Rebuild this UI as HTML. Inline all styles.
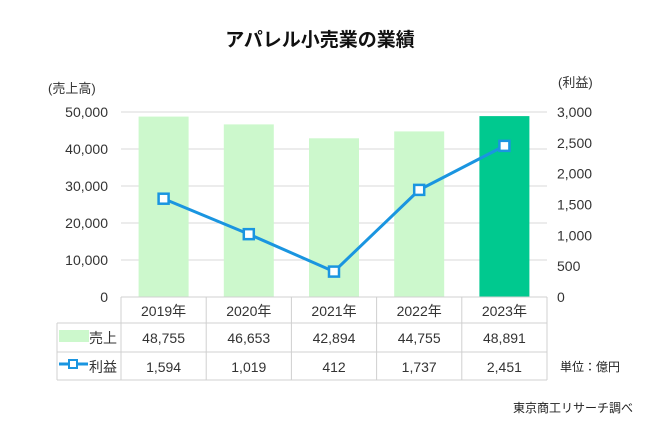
<!DOCTYPE html>
<html><head><meta charset="utf-8"><style>
body{margin:0;background:#fff;font-family:"Liberation Sans","Noto Sans CJK JP",sans-serif;}
svg text{font-family:"Liberation Sans","Noto Sans CJK JP",sans-serif;}
</style></head><body>
<svg id="c" width="661" height="427">
<text x="320" y="46" text-anchor="middle" font-size="19" font-weight="bold" fill="#111">アパレル小売業の業績</text>
<text x="48" y="93" font-size="13" fill="#333">(売上高)</text>
<text x="558" y="87" font-size="13" fill="#333">(利益)</text>
<text x="560" y="371" font-size="12" fill="#222">単位：億円</text>
<text x="633" y="412" text-anchor="end" font-size="12" fill="#222">東京商工リサーチ調べ</text>
<g id="g"></g>
</svg>
<script>
const years=["2019年","2020年","2021年","2022年","2023年"];
const sales=[48755,46653,42894,44755,48891];
const profit=[1594,1019,412,1737,2451];
const leftTicks=[0,10000,20000,30000,40000,50000];
const rightTicks=[0,500,1000,1500,2000,2500,3000];
const salesLabels=["48,755","46,653","42,894","44,755","48,891"];
const profitLabels=["1,594","1,019","412","1,737","2,451"];
const NS="http://www.w3.org/2000/svg",g=document.getElementById('g');
const x0=121,x1=547,cw=(x1-x0)/5,yT=112,yB=297,lx=57;
const yL=v=>yB-(v/50000)*(yB-yT), yR=v=>yB-(v/3000)*(yB-yT), cx=i=>x0+cw*(i+0.5);
function mk(t,a,txt){const e=document.createElementNS(NS,t);for(const k in a)e.setAttribute(k,a[k]);if(txt!=null)e.textContent=txt;g.appendChild(e);return e;}
leftTicks.forEach(v=>{
 if(v>0){const l=mk('line',{x1:x0,x2:x1,y1:yL(v),y2:yL(v),stroke:'#d9d9d9'});
 }
 const t=mk('text',{x:108,y:yL(v)+5,'text-anchor':'end','font-size':14,fill:'#333'},v.toLocaleString('en-US'));
 
});
rightTicks.forEach(v=>{
 const t=mk('text',{x:557,y:yR(v)+5,'font-size':14,fill:'#333'},v.toLocaleString('en-US'));
 
});
sales.forEach((v,i)=>{
 const b=mk('rect',{x:cx(i)-25,y:yL(v),width:50,height:yB-yL(v),fill:i===4?'#00c98f':'#ccf8cc'});
 
});
const pts=profit.map((v,i)=>cx(i)+','+yR(v)).join(' ');
const pl=mk('polyline',{points:pts,fill:'none',stroke:'#1a95e0','stroke-width':3});

profit.forEach((v,i)=>{
 const m=mk('rect',{x:cx(i)-5,y:yR(v)-5,width:10,height:10,fill:'#fff',stroke:'#1a95e0','stroke-width':2.5});
 
});
const st={stroke:'#d0d0d0','stroke-width':1};
[[x0,x1,297],[lx,x1,323],[lx,x1,352],[lx,x1,380]].forEach(r=>{const l=mk('line',Object.assign({x1:r[0],x2:r[1],y1:r[2],y2:r[2]},st));});
for(let i=0;i<=5;i++){const l=mk('line',Object.assign({x1:x0+cw*i,x2:x0+cw*i,y1:297,y2:380},st));}
const l0=mk('line',Object.assign({x1:lx,x2:lx,y1:323,y2:380},st));
years.forEach((y,i)=>{
 let t=mk('text',{x:cx(i),y:316,'text-anchor':'middle','font-size':14,fill:'#333'},y);
 
 t=mk('text',{x:cx(i),y:343,'text-anchor':'middle','font-size':14,fill:'#333'},salesLabels[i]);
 
 t=mk('text',{x:cx(i),y:372,'text-anchor':'middle','font-size':14,fill:'#333'},profitLabels[i]);
 
});
let e=mk('rect',{x:59,y:330,width:30,height:12,fill:'#ccf8cc'});

e=mk('text',{x:89,y:343,'font-size':14,fill:'#333'},'売上');

e=mk('line',{x1:59,x2:88,y1:364,y2:364,stroke:'#1a95e0','stroke-width':3});

e=mk('rect',{x:69,y:360,width:8,height:8,fill:'#fff',stroke:'#1a95e0','stroke-width':2});

e=mk('text',{x:89,y:372,'font-size':14,fill:'#333'},'利益');

</script>
</body></html>
